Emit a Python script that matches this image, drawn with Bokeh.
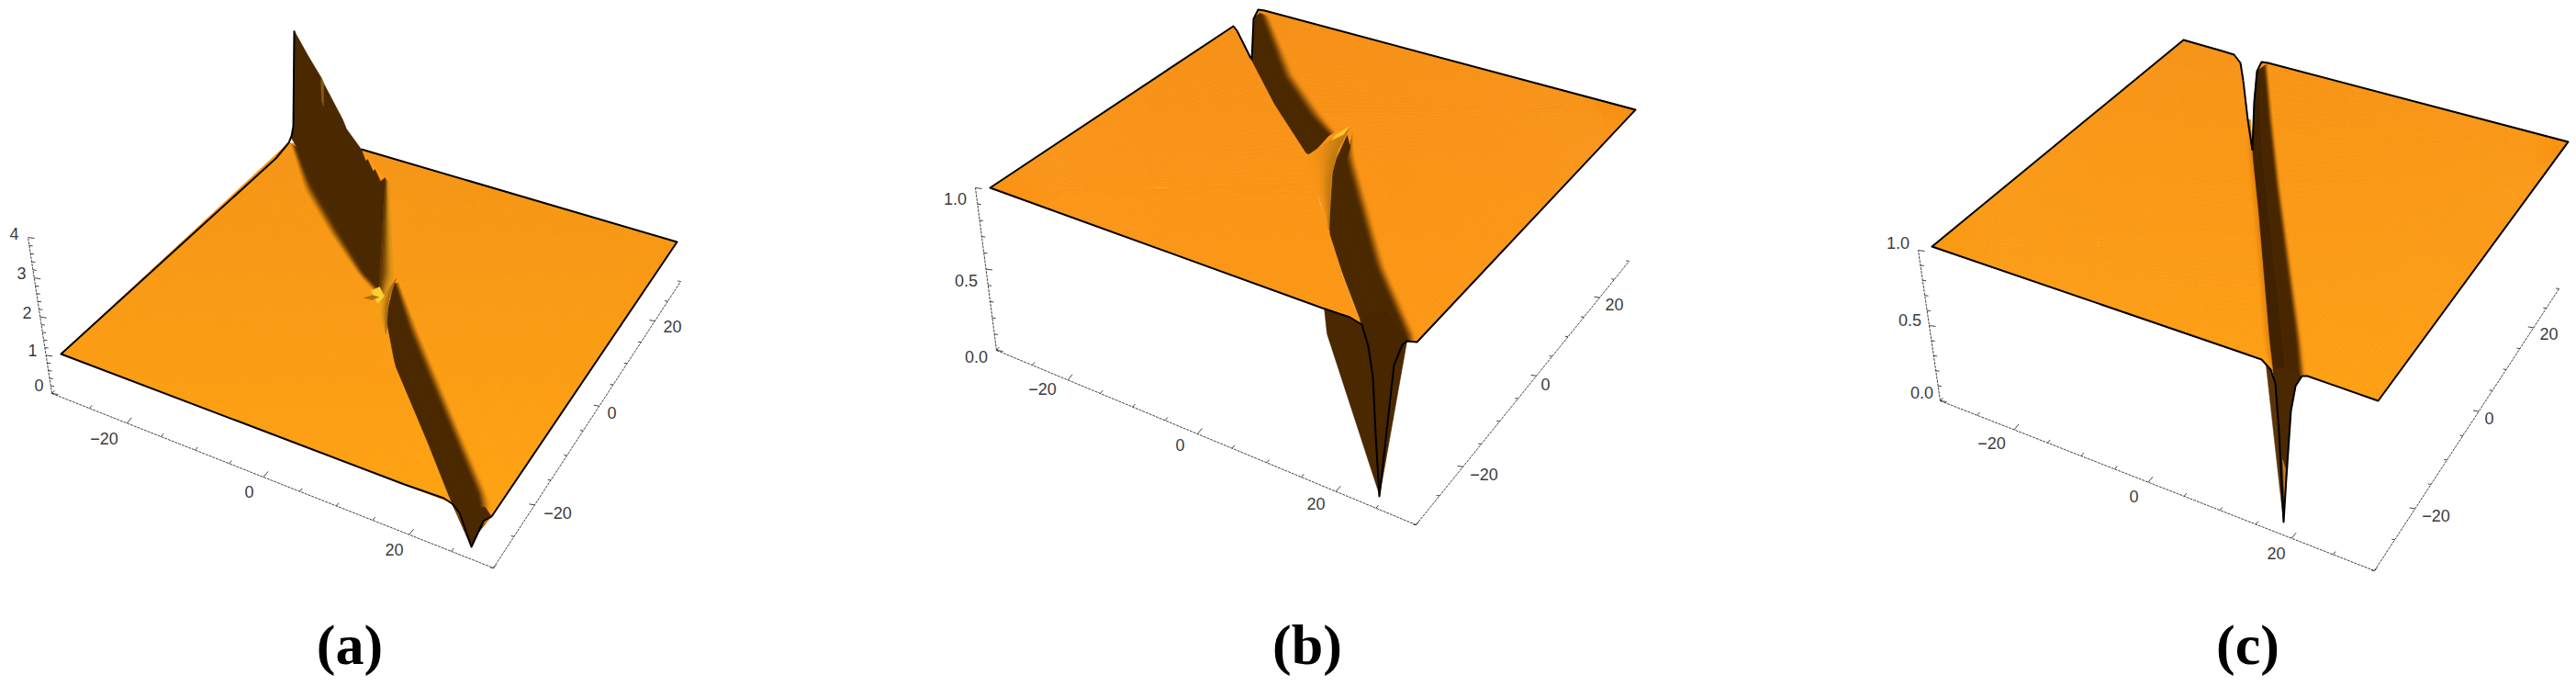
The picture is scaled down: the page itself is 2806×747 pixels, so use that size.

import numpy as np
from bokeh.plotting import figure
from bokeh.layouts import row
from bokeh.embed import file_html
from bokeh.resources import INLINE
from bokeh.core.properties import value

# tick values
floor_ticks = [-30, -25, -20, -15, -10, -5, 0, 5, 10, 15, 20, 25, 30]
floor_major = [-20, 0, 20]
floor_labels = ["\u221220", "0", "20"]
z_ticks_a = [0, .2, .4, .6, .8, 1, 1.2, 1.4, 1.6, 1.8, 2, 2.2, 2.4, 2.6, 2.8, 3, 3.2, 3.4, 3.6, 3.8, 4]
z_major_a = [0, 1, 2, 3, 4]
z_labels_a = ["0", "1", "2", "3", "4"]
z_ticks_bc = [0, .1, .2, .3, .4, .5, .6, .7, .8, .9, 1]
z_major_bc = [0, .5, 1]
z_labels_bc = ["0.0", "0.5", "1.0"]

# ---------- panel (a): outlines
a_base = [(66, 385), (314, 155), (393, 162), (737, 263), (535, 562), (492, 548), (483, 542)]
a_left_apex = (66, 385)
a_left_chain = [(314, 155), (338, 197), (367, 247), (397, 297), (412, 320), (420, 363), (430, 397), (467, 480), (490, 543), (492, 548), (483, 542)]
a_right_apex = (737, 263)
a_right_chain = [(393, 162), (420, 193), (428, 303), (436, 320), (457, 360), (507, 480), (535, 545), (535, 562)]
a_wall = [(320, 33), (335, 60), (350, 85), (352, 90), (373, 130), (377, 140), (393, 162), (398, 175), (400, 173), (406, 186), (408, 184), (414, 197), (419, 193), (412, 320), (397, 297), (367, 247), (338, 197), (323, 160), (317, 150), (319, 137)]
a_streak_up = [(349, 85), (352, 90), (352, 115), (350, 110)]
a_soft1_out = [(315, 155), (330, 207), (357, 253), (390, 300), (405, 316)]
a_soft1_in = [(323, 160), (338, 197), (367, 247), (397, 297), (412, 312)]
a_gold1_l = [(419, 194), (416, 250), (412, 313), (413, 322)]
a_gold1_r = [(423, 200), (426, 260), (428, 302), (418, 330)]
a_gold2_l = [(412, 330), (414, 350), (420, 365)]
a_gold2_r = [(431, 303), (423, 325), (420, 360)]
a_glow = [(404, 316), (413, 312), (418, 322), (411, 330)]
a_streak = [(396, 324), (405, 321), (412, 323), (405, 326)]
a_core_l = [(420, 345), (430, 397), (465, 480), (490, 543), (513, 595)]
a_core_r = [(429, 308), (445, 360), (495, 480), (522, 545), (520, 580)]
a_soft2_out = [(436, 308), (457, 360), (507, 480), (535, 545), (535, 562)]
a_tip = [(492, 548), (500, 558), (513, 595), (520, 580), (526, 567), (535, 562), (528, 552), (505, 550)]
a_wedge = [(492, 548), (500, 558), (510, 588)]
a_outline = [(320, 33), (319, 137), (317, 148), (314, 155), (300, 172), (66, 385), (440, 527), (483, 542), (492, 548), (500, 558), (513, 595), (520, 580), (526, 567), (535, 562), (737, 263), (393, 162)]
a_x_axis = [(56, 428), (537, 618)]
a_y_axis = [(537, 618), (741, 306)]
a_z_axis = [(56, 428), (30, 258)]
a_x_lab = [(113, 477), (271, 535), (429, 598)]
a_y_lab = [(607, 558), (666, 449), (732, 355)]
a_z_lab = [(42, 419), (35, 381), (29, 340), (23, 297), (15, 254)]

# ---------- panel (b)
b_left_apex = (1078, 204)
b_left_chain = [(1343, 28), (1347, 33), (1362, 63), (1388, 113), (1423, 167), (1430, 180), (1437, 220), (1447, 250), (1462, 300), (1476, 340), (1470, 345), (1440, 335)]
b_corner = [(1462, 300), (1483, 353), (1470, 345), (1460, 335)]
b_right_apex = (1781, 119)
b_right_chain = [(1377, 11), (1370, 10), (1365, 20), (1363, 65), (1423, 167), (1447, 250), (1463, 300), (1495, 350), (1532, 371), (1543, 372)]
b_core1_l = [(1366, 18), (1363, 65), (1388, 113), (1423, 167), (1428, 168)]
b_core1_r = [(1372, 14), (1375, 23), (1397, 83), (1427, 127), (1447, 147)]
b_soft1_out = [(1383, 18), (1385, 20), (1410, 80), (1443, 127), (1455, 142)]
b_ridge_l = [(1425, 168), (1432, 190), (1438, 220), (1447, 250)]
b_ridge_r = [(1470, 138), (1457, 163), (1450, 190), (1447, 250)]
b_glint = [(1455, 146), (1470, 137), (1463, 146), (1450, 152)]
b_core2_l = [(1467, 147), (1452, 180), (1447, 250), (1463, 300), (1483, 352), (1502, 540)]
b_core2_r = [(1470, 160), (1465, 175), (1497, 290), (1530, 365), (1532, 371)]
b_soft2_out = [(1474, 140), (1477, 170), (1510, 290), (1543, 365), (1543, 372)]
b_under_l = [(1442, 335), (1445, 363), (1502, 538), (1498, 473), (1495, 410), (1490, 377), (1483, 353), (1470, 345)]
b_under_r = [(1483, 353), (1490, 377), (1495, 410), (1498, 473), (1502, 540), (1508, 487), (1518, 397), (1527, 375), (1532, 371), (1510, 340), (1490, 340)]
b_outline = [(1363, 65), (1365, 20), (1370, 10), (1377, 11), (1781, 119), (1543, 372), (1532, 371), (1527, 375), (1518, 397), (1508, 487), (1502, 540), (1498, 473), (1495, 410), (1490, 377), (1483, 353), (1470, 345), (1440, 335), (1078, 204), (1343, 28), (1347, 33), (1362, 63)]
b_x_axis = [(1085, 381), (1542, 571)]
b_y_axis = [(1542, 571), (1774, 284)]
b_z_axis = [(1085, 381), (1062, 204)]
b_x_lab = [(1135, 423), (1285, 484), (1433, 548)]
b_y_lab = [(1616, 516), (1683, 418), (1758, 331)]
b_z_lab = [(1063, 388), (1052, 305), (1040, 216)]

# ---------- panel (c)
c_left_apex = (2104, 268)
c_left_chain = [(2378, 43), (2420, 55), (2433, 59), (2440, 68), (2443, 87), (2448, 130), (2453, 163), (2460, 230), (2472, 370), (2463, 391), (2440, 383)]
c_corner = [(2463, 391), (2473, 402), (2477, 402), (2472, 370), (2460, 380)]
c_right_apex = (2797, 154)
c_right_chain = [(2470, 68), (2463, 67), (2458, 77), (2455, 110), (2453, 163), (2460, 230), (2475, 402), (2500, 405), (2507, 409), (2513, 409), (2590, 436)]
c_crease_out = [(2447, 130), (2446, 163), (2453, 230), (2465, 370), (2470, 392)]
c_crease_in = [(2451, 130), (2453, 163), (2460, 230), (2472, 370), (2476, 402)]
c_core_l = [(2458, 77), (2455, 110), (2453, 163), (2460, 230), (2472, 370), (2477, 412)]
c_core_r = [(2465, 72), (2470, 130), (2478, 203), (2500, 370), (2503, 408)]
c_soft_out = [(2471, 68), (2477, 130), (2485, 203), (2508, 370), (2512, 407)]
c_under_l = [(2468, 398), (2473, 402), (2478, 417), (2482, 470), (2487, 568), (2483, 533)]
c_under_r = [(2478, 417), (2482, 470), (2487, 568), (2490, 520), (2495, 447), (2500, 420), (2507, 409), (2490, 400), (2475, 402)]
c_sliver = [(2486, 500), (2488, 545), (2489, 510)]
c_outline = [(2443, 87), (2440, 68), (2433, 59), (2420, 55), (2378, 43), (2104, 268), (2440, 383), (2463, 391), (2473, 402), (2478, 417), (2482, 470), (2487, 568), (2490, 520), (2495, 447), (2500, 420), (2507, 409), (2513, 409), (2590, 436), (2797, 154), (2470, 68), (2463, 67), (2458, 77), (2455, 110), (2453, 163)]
c_crease_line = [(2443, 87), (2448, 130), (2453, 163)]
c_x_axis = [(2113, 436), (2586, 621)]
c_y_axis = [(2586, 621), (2787, 314)]
c_z_axis = [(2113, 436), (2089, 272)]
c_x_lab = [(2169, 482), (2324, 540), (2479, 602)]
c_y_lab = [(2653, 561), (2711, 455), (2776, 363)]
c_z_lab = [(2093, 427), (2080, 348), (2067, 264)]

FLOOR_FRAC_X = [0, .17, .479, .809, 1]
FLOOR_FRAC_Y = [0, .22, .565, .862, 1]
FLOOR_VALS = [-30, -20, 0, 20, 30]


def hex2(c):
    return np.array([int(c[i:i + 2], 16) for i in (1, 3, 5)], float)


def mix(c0, c1, t):
    v = hex2(c0) * (1 - t) + hex2(c1) * t
    return "#%02x%02x%02x" % tuple(int(round(x)) for x in v)


def resample(poly, n):
    pts = np.array(poly, float)
    d = np.r_[0, np.cumsum(np.hypot(*np.diff(pts, axis=0).T))]
    s = np.linspace(0, d[-1], n)
    return np.c_[np.interp(s, d, pts[:, 0]), np.interp(s, d, pts[:, 1])]


class Panel:
    def __init__(self, left, right):
        self.p = figure(width=right - left, height=747, x_range=(left, right), y_range=(747, 0),
                        output_backend="svg", toolbar_location=None, min_border=0, outline_line_color=None)
        self.p.axis.visible = False
        self.p.grid.visible = False

    def fan(self, apex, chain, top, bot, ymin, ymax, ns=70, nt=10):
        ch = resample(chain, ns)
        ap = np.array(apex, float)
        xs, ys, cs = [], [], []
        for i in range(ns - 1):
            for j in range(nt):
                t0, t1 = j / nt, (j + 1) / nt
                q = np.array([ch[i] * (1 - t0) + ap * t0, ch[i + 1] * (1 - t0) + ap * t0,
                              ch[i + 1] * (1 - t1) + ap * t1, ch[i] * (1 - t1) + ap * t1])
                xs.append(q[:, 0]); ys.append(q[:, 1])
                cs.append(mix(top, bot, float(np.clip((q[:, 1].mean() - ymin) / (ymax - ymin), 0, 1))))
        self.p.patches(xs, ys, fill_color=cs, line_color=cs, line_width=.7)

    def ribbon(self, A, B, c0, c1, n=10, ns=30):
        a, b = resample(A, ns), resample(B, ns)
        xs, ys, cs = [], [], []
        for j in range(n):
            t0, t1 = j / n, (j + 1) / n
            e0, e1 = a * (1 - t0) + b * t0, a * (1 - t1) + b * t1
            ring = np.r_[e0, e1[::-1]]
            xs.append(ring[:, 0]); ys.append(ring[:, 1])
            t = (j + .5) / n
            cs.append(mix(c0, c1, t * t * (3 - 2 * t)))
        self.p.patches(xs, ys, fill_color=cs, line_color=cs, line_width=.7)

    def poly(self, pts, color):
        a = np.array(pts, float)
        self.p.patch(a[:, 0], a[:, 1], fill_color=color, line_color=color, line_width=.5)

    def line(self, pts, w=2.0, color="#000000"):
        a = np.array(pts, float)
        self.p.line(a[:, 0], a[:, 1], line_color=color, line_width=w, line_join="round")

    def axis(self, seg, fracs, vals, ticks, major, tick_vec, labels_at, labels):
        a = np.array(seg, float)
        self.p.line(a[:, 0], a[:, 1], line_color="#111111", line_width=.8, line_dash="3 1")
        f = np.interp(ticks, vals, fracs)
        bx, by = a[0, 0] + f * (a[1, 0] - a[0, 0]), a[0, 1] + f * (a[1, 1] - a[0, 1])
        mult = np.array([1.0 if min(abs(t - m) for m in major) < 1e-6 else .55 for t in ticks])
        self.p.segment(bx, by, bx + tick_vec[0] * mult, by + tick_vec[1] * mult,
                       line_color="#111111", line_width=.8)
        l = np.array(labels_at, float)
        self.p.text(l[:, 0], l[:, 1], text=labels, text_font=value("Liberation Sans"), text_font_size="18px",
                    text_color="#3c3c3c", text_align="center", text_baseline="middle")

    def title(self, x, s):
        self.p.text([x], [701], text=[s], text_font=value("Liberation Serif"), text_font_size="62px",
                    text_font_style="bold", text_color="#000000", text_align="center", text_baseline="middle")


DARK = "#4a2800"
# ---- a
A = Panel(0, 930)
ot, ob = "#f59518", "#ffa414"
A.poly(a_base, "#fb9b16")
A.fan(a_left_apex, a_left_chain, ot, ob, 150, 570)
A.fan(a_right_apex, a_right_chain, ot, ob, 150, 570)
A.poly(a_wall, DARK)
A.poly(a_streak_up, "#8a5a10")
A.ribbon(a_soft1_out, a_soft1_in, "#fb9c16", DARK)
A.ribbon(a_core_r, a_soft2_out, DARK, "#fe9f15")
A.ribbon(a_core_l, a_core_r, DARK, DARK, n=2)
A.ribbon(a_gold1_l, a_gold1_r, "#5a3204", "#e09818")
A.ribbon(a_gold2_l, a_gold2_r, "#f2a01a", "#a86a10")
A.poly(a_glow, "#ffcf35")
A.poly(a_streak, "#a87012")
A.poly(a_tip, DARK)
A.poly(a_wedge, "#7a4a08")
A.line(a_outline)
A.axis(a_x_axis, FLOOR_FRAC_X, FLOOR_VALS, floor_ticks, floor_major, (5, -6), a_x_lab, floor_labels)
A.axis(a_y_axis, FLOOR_FRAC_Y, FLOOR_VALS, floor_ticks, floor_major, (-6, -1), a_y_lab, floor_labels)
A.axis(a_z_axis, [0, .245, .49, .74, 1], z_major_a, z_ticks_a, z_major_a, (7, 1), a_z_lab, z_labels_a)
A.title(380.5, "(a)")

# ---- b
B = Panel(930, 1870)
ot, ob = "#f69017", "#fd9816"
B.fan(b_left_apex, b_left_chain, ot, ob, 10, 370)
B.fan(b_right_apex, b_right_chain, ot, ob, 10, 370)
B.poly(b_corner, ob)
B.ribbon(b_core1_r, b_soft1_out, DARK, "#f79217")
B.ribbon(b_core1_l, b_core1_r, DARK, DARK, n=2)
B.ribbon(b_core2_r, b_soft2_out, DARK, "#fb9616")
B.ribbon(b_core2_l, b_core2_r, DARK, DARK, n=2)
B.ribbon(b_ridge_l, b_ridge_r, "#f79416", "#c07a10", n=8)
B.poly(b_glint, "#ffc62a")
B.poly(b_under_l, DARK)
B.poly(b_under_r, "#472600")
B.line(b_outline)
B.axis(b_x_axis, FLOOR_FRAC_X, FLOOR_VALS, floor_ticks, floor_major, (5, -6), b_x_lab, floor_labels)
B.axis(b_y_axis, FLOOR_FRAC_Y, FLOOR_VALS, floor_ticks, floor_major, (-6, -1), b_y_lab, floor_labels)
B.axis(b_z_axis, [0, .5, 1], z_major_bc, z_ticks_bc, z_major_bc, (7, 1), b_z_lab, z_labels_bc)
B.title(1423.5, "(b)")

# ---- c
C = Panel(1870, 2806)
ot, ob = "#f79317", "#fea115"
C.fan(c_left_apex, c_left_chain, ot, ob, 40, 440)
C.fan(c_right_apex, c_right_chain, ot, ob, 40, 440)
C.poly(c_corner, ob)
C.ribbon(c_crease_out, c_crease_in, "#fb9a16", "#e4860f", n=6)
C.ribbon(c_core_r, c_soft_out, DARK, "#fb9a16")
C.ribbon(c_core_l, c_core_r, "#3e2000", DARK, n=2)
C.poly(c_under_l, "#5a3408")
C.poly(c_under_r, DARK)
C.poly(c_sliver, "#c8801a")
C.line(c_outline)
C.line(c_crease_line)
C.axis(c_x_axis, FLOOR_FRAC_X, FLOOR_VALS, floor_ticks, floor_major, (5, -6), c_x_lab, floor_labels)
C.axis(c_y_axis, FLOOR_FRAC_Y, FLOOR_VALS, floor_ticks, floor_major, (-6, -1), c_y_lab, floor_labels)
C.axis(c_z_axis, [0, .5, 1], z_major_bc, z_ticks_bc, z_major_bc, (7, 1), c_z_lab, z_labels_bc)
C.title(2448, "(c)")

page = row(A.p, B.p, C.p, spacing=0)
open("out.html", "w").write(file_html(page, INLINE))
